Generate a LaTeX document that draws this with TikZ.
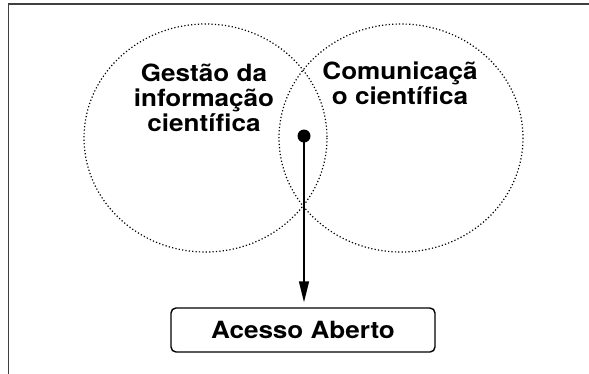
\documentclass[tikz,border=0pt]{standalone}
\usepackage{fontspec}
\newfontfamily\lab{TeX Gyre Heros}[FakeStretch=1.1]
\usetikzlibrary{arrows.meta}
\begin{document}
\begin{tikzpicture}[x=1pt,y=-1pt,
  set/.style={draw,dash pattern=on 1.2pt off 2.2pt,line width=1.2pt},
  lbl/.style={font=\lab\bfseries\fontsize{23.7}{25}\selectfont,align=center,inner sep=0pt},
  boxx/.style={draw,line width=1.4pt,rounded corners=5pt,minimum width=264pt,minimum height=44pt,inner sep=0pt,font=\lab\bfseries\fontsize{23.7}{25}\selectfont}]
\useasboundingbox (0,0) rectangle (589,373);
\draw[line width=1.6pt,color=black!75] (590,4) -- (8.5,4) -- (8.5,374);
\draw[set] (205.5,138) ellipse [x radius=121.5, y radius=114];
\draw[set] (401,138) ellipse [x radius=122, y radius=114];
\node[lbl,anchor=base] (gest) at (204,131.7) {Gestão da\\informação\\científica};
\node[lbl,anchor=base] (com) at (400,104.5) {Comunicaçã\\o científica};
\node[circle,fill=black,inner sep=0pt,minimum size=13pt] (dot) at (304,136) {};
\node[boxx] (acc) at (303,330) {Acesso Aberto};
\draw[line width=1.5pt,-{Triangle[length=21pt,width=10pt]},shorten >=5pt] (dot.center) -- (dot.center |- acc.north);
\end{tikzpicture}
\end{document}
